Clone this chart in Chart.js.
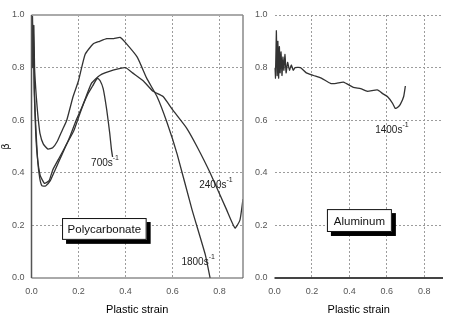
<!DOCTYPE html>
<html>
<head>
<meta charset="utf-8">
<script src="https://cdn.jsdelivr.net/npm/chart.js@4/dist/chart.umd.min.js"></script>
<style>
  body { margin: 0; background: #fff; }
  #wrap { position: relative; width: 449px; height: 319px; background: #fff; overflow: hidden; }
  canvas { position: absolute; top: 0; }
  #left { left: 0; }
  #right { left: 245px; }
</style>
</head>
<body>
<div id="wrap">
  <canvas id="left" width="250" height="319"></canvas>
  <canvas id="right" width="204" height="319"></canvas>
</div>
<script>
// Polycarbonate curves (strain, beta)
const strain700  = [0.000, 0.004, 0.008, 0.012, 0.018, 0.026, 0.035, 0.045, 0.060, 0.080, 0.100, 0.130, 0.160, 0.190, 0.215, 0.240, 0.260, 0.280, 0.292, 0.305, 0.320, 0.333, 0.340, 0.345];
const beta700    = [0.98, 0.85, 0.93, 0.72, 0.58, 0.45, 0.38, 0.35, 0.35, 0.37, 0.41, 0.47, 0.53, 0.60, 0.65, 0.70, 0.73, 0.76, 0.75, 0.72, 0.64, 0.55, 0.49, 0.46];

const strain1800 = [0.000, 0.004, 0.007, 0.010, 0.013, 0.018, 0.023, 0.028, 0.036, 0.050, 0.070, 0.090, 0.110, 0.130, 0.150, 0.177, 0.200, 0.228, 0.262, 0.290, 0.320, 0.350, 0.377, 0.400, 0.450, 0.490, 0.534, 0.577, 0.620, 0.683, 0.740, 0.760];
const beta1800   = [0.90, 1.00, 0.85, 0.96, 0.80, 0.72, 0.66, 0.61, 0.55, 0.51, 0.49, 0.495, 0.52, 0.56, 0.60, 0.69, 0.75, 0.85, 0.89, 0.90, 0.91, 0.91, 0.915, 0.895, 0.84, 0.76, 0.69, 0.59, 0.47, 0.26, 0.087, 0.0];

const strain2400 = [0.000, 0.004, 0.008, 0.012, 0.018, 0.025, 0.037, 0.055, 0.075, 0.090, 0.120, 0.150, 0.180, 0.200, 0.220, 0.255, 0.290, 0.347, 0.400, 0.430, 0.475, 0.517, 0.560, 0.600, 0.660, 0.704, 0.760, 0.830, 0.866, 0.887, 0.900];
const beta2400   = [0.95, 0.80, 0.92, 0.70, 0.55, 0.46, 0.39, 0.36, 0.37, 0.41, 0.46, 0.51, 0.56, 0.61, 0.66, 0.74, 0.77, 0.79, 0.80, 0.78, 0.75, 0.71, 0.69, 0.64, 0.57, 0.50, 0.40, 0.26, 0.19, 0.22, 0.30];

// Aluminum curve
const strainAl = [0.000, 0.005, 0.010, 0.014, 0.018, 0.022, 0.026, 0.030, 0.035, 0.040, 0.045, 0.050, 0.056, 0.062, 0.070, 0.080, 0.090, 0.100, 0.110, 0.139, 0.170, 0.208, 0.250, 0.299, 0.330, 0.368, 0.421, 0.460, 0.496, 0.549, 0.580, 0.603, 0.630, 0.645, 0.660, 0.672, 0.690, 0.699];
const betaAl   = [0.80, 0.76, 0.94, 0.77, 0.90, 0.76, 0.88, 0.78, 0.86, 0.77, 0.84, 0.79, 0.85, 0.78, 0.82, 0.79, 0.81, 0.79, 0.80, 0.80, 0.78, 0.77, 0.76, 0.74, 0.74, 0.745, 0.725, 0.72, 0.71, 0.715, 0.70, 0.69, 0.665, 0.645, 0.65, 0.66, 0.69, 0.73];

const xTicks = [0.0, 0.2, 0.4, 0.6, 0.8];
const yTicks = [0.0, 0.2, 0.4, 0.6, 0.8, 1.0];

const zip = (xs, ys) => xs.map((x, i) => ({ x, y: ys[i] }));

const curve = (data) => ({
    data,
    borderColor: '#333',
    borderWidth: 1.3,
    pointRadius: 0,
    tension: 0.15,
    fill: false
});

// Frame lines, rate labels and the material boxes
const panelDecor = {
    id: 'panelDecor',
    afterDatasetsDraw(chart, args, opts) {
        const { ctx, chartArea: a, scales: { x, y } } = chart;
        ctx.save();

        (opts.frame || []).forEach(f => {
            ctx.beginPath();
            ctx.strokeStyle = f.color;
            ctx.lineWidth = f.width;
            if (f.side === 'left')   { ctx.moveTo(a.left, a.top); ctx.lineTo(a.left, a.bottom); }
            if (f.side === 'right')  { ctx.moveTo(a.right, a.top); ctx.lineTo(a.right, a.bottom); }
            if (f.side === 'top')    { ctx.moveTo(a.left, a.top); ctx.lineTo(a.right, a.top); }
            if (f.side === 'bottom') { ctx.moveTo(a.left, a.bottom); ctx.lineTo(a.right, a.bottom); }
            ctx.stroke();
        });

        (opts.labels || []).forEach(l => {
            const px = x.getPixelForValue(l.x);
            const py = y.getPixelForValue(l.y);
            ctx.font = '10px "Liberation Sans", Arial, sans-serif';
            const w = ctx.measureText(l.text).width;
            ctx.font = '7px "Liberation Sans", Arial, sans-serif';
            const ws = ctx.measureText('-1').width;
            const x0 = px - (w + ws) / 2;
            ctx.fillStyle = '#222';
            ctx.textBaseline = 'middle';
            ctx.textAlign = 'left';
            ctx.font = '10px "Liberation Sans", Arial, sans-serif';
            ctx.fillText(l.text, x0, py);
            ctx.font = '7px "Liberation Sans", Arial, sans-serif';
            ctx.fillText('-1', x0 + w, py - 5);
        });

        (opts.boxes || []).forEach(b => {
            const x0 = x.getPixelForValue(b.x0), x1 = x.getPixelForValue(b.x1);
            const y0 = y.getPixelForValue(b.y0), y1 = y.getPixelForValue(b.y1);
            ctx.fillStyle = '#000';
            ctx.fillRect(x0 + 4, y0 + 4, x1 - x0, y1 - y0);
            ctx.fillStyle = '#fff';
            ctx.fillRect(x0, y0, x1 - x0, y1 - y0);
            ctx.strokeStyle = '#111';
            ctx.lineWidth = 1;
            ctx.strokeRect(x0 + 0.5, y0 + 0.5, x1 - x0 - 1, y1 - y0 - 1);
            ctx.fillStyle = '#111';
            ctx.font = '11.5px "Liberation Sans", Arial, sans-serif';
            ctx.textAlign = 'center';
            ctx.textBaseline = 'middle';
            ctx.fillText(b.text, (x0 + x1) / 2, (y0 + y1) / 2 + 1);
        });

        ctx.restore();
    }
};

const tickFont = { family: '"Liberation Sans", Arial, sans-serif', size: 9 };
const gridColor = (c) => (c.tick && c.tick.value === 0) ? 'rgba(0,0,0,0)' : '#9c9c9c';

function scalesFor(yWidth, withTitle) {
    return {
        x: {
            type: 'linear',
            min: 0, max: 0.9,
            afterFit: (s) => { s.height = 41; },
            afterBuildTicks: (s) => { s.ticks = xTicks.map(v => ({ value: v })); },
            ticks: { font: tickFont, color: '#555', padding: 8, callback: v => v.toFixed(1), maxRotation: 0 },
            grid: { color: gridColor, lineWidth: 1, drawTicks: false },
            border: { display: false, dash: [2, 2] },
            title: {
                display: true, text: 'Plastic strain', color: '#000',
                font: { family: '"Liberation Sans", Arial, sans-serif', size: 11 },
                padding: { top: 2, bottom: 2 }
            }
        },
        y: {
            min: 0, max: 1.0,
            afterFit: (s) => { s.width = yWidth; },
            afterBuildTicks: (s) => { s.ticks = yTicks.map(v => ({ value: v })); },
            ticks: { font: tickFont, color: '#555', padding: 7, callback: v => v.toFixed(1) },
            grid: { color: gridColor, lineWidth: 1, drawTicks: false },
            border: { display: false, dash: [2, 2] },
            title: {
                display: withTitle, text: 'β', color: '#222',
                font: { family: '"DejaVu Sans", sans-serif', size: 10 },
                padding: 0
            }
        }
    };
}

new Chart(document.getElementById('left'), {
    type: 'line',
    data: {
        datasets: [
            curve(zip(strain700, beta700)),
            curve(zip(strain1800, beta1800)),
            curve(zip(strain2400, beta2400))
        ]
    },
    options: {
        responsive: false,
        animation: false,
        devicePixelRatio: 1,
        layout: { padding: { top: 15, right: 7, left: 0, bottom: 0 } },
        plugins: {
            legend: { display: false },
            tooltip: { enabled: false },
            panelDecor: {
                frame: [
                    { side: 'top', color: '#aaa', width: 2 },
                    { side: 'left', color: '#555', width: 1.5 },
                    { side: 'right', color: '#888', width: 1.5 },
                    { side: 'bottom', color: '#555', width: 1 }
                ],
                labels: [
                    { text: '700s', x: 0.313, y: 0.436 },
                    { text: '2400s', x: 0.785, y: 0.353 },
                    { text: '1800s', x: 0.709, y: 0.061 }
                ],
                boxes: [
                    { text: 'Polycarbonate', x0: 0.13, x1: 0.49, y0: 0.228, y1: 0.145 }
                ]
            }
        },
        scales: scalesFor(31.5, true)
    },
    plugins: [panelDecor]
});

new Chart(document.getElementById('right'), {
    type: 'line',
    data: {
        datasets: [curve(zip(strainAl, betaAl))]
    },
    options: {
        responsive: false,
        animation: false,
        devicePixelRatio: 1,
        layout: { padding: { top: 15, right: 6, left: 0, bottom: 0 } },
        plugins: {
            legend: { display: false },
            tooltip: { enabled: false },
            panelDecor: {
                frame: [
                    { side: 'bottom', color: '#444', width: 2 }
                ],
                labels: [
                    { text: '1400s', x: 0.627, y: 0.562 }
                ],
                boxes: [
                    { text: 'Aluminum', x0: 0.28, x1: 0.627, y0: 0.262, y1: 0.175 }
                ]
            }
        },
        scales: scalesFor(29.5, false)
    },
    plugins: [panelDecor]
});
</script>
</body>
</html>
